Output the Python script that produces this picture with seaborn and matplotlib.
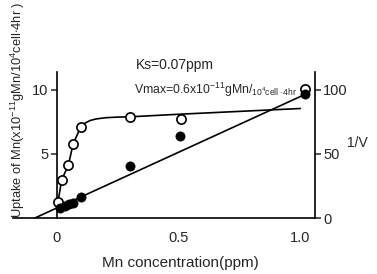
import matplotlib
matplotlib.use("Agg")
import matplotlib.pyplot as plt
import seaborn as sns
import numpy as np
import pandas as pd

# Data
open_x = [0.005, 0.02, 0.047, 0.067, 0.098, 0.30, 0.51, 1.02]
open_y = [1.27, 3.0, 4.1, 5.8, 7.1, 7.85, 7.75, 10.05]
curve_x = [0.005, 0.02, 0.047, 0.067, 0.098, 0.115, 0.135, 0.16, 0.2, 0.25, 0.3, 0.5, 1.0]
curve_y = [1.27, 3.0, 4.1, 5.8, 7.1, 7.4, 7.6, 7.73, 7.83, 7.88, 7.9, 8.1, 8.55]
filled_x = [0.012, 0.033, 0.05, 0.067, 0.098, 0.30, 0.506, 1.02]
filled_y = [7.6, 9.6, 10.7, 12.0, 16.4, 40.6, 64.3, 96.6]
fit_x = [-0.09, 1.02]
fit_y = [0.0, 96.6]
x_ticks = [0, 0.5, 1.0]
x_ticklabels = ["0", "0.5", "1.0"]
left_ticks = [5, 10]
right_ticks = [0, 50, 100]

sns.set_style("white")
plt.rcParams['font.family'] = ['Liberation Sans', 'DejaVu Sans']
plt.rcParams['mathtext.fontset'] = 'custom'
plt.rcParams['mathtext.rm'] = 'Liberation Sans'
plt.rcParams['mathtext.it'] = 'Liberation Sans'

fig = plt.figure(figsize=(3.77, 2.74), dpi=100)
ax = fig.add_axes([13/377, 56/274, (315-13)/377, (218-72)/274])
ax2 = ax.twinx()

lw = 1.2
sns.lineplot(x=curve_x, y=curve_y, ax=ax, color="black", lw=lw, sort=False, estimator=None)
sns.scatterplot(x=open_x, y=open_y, ax=ax, marker="o", s=44, facecolor="white",
                edgecolor="black", linewidth=1.2, zorder=5)
sns.lineplot(x=fit_x, y=fit_y, ax=ax2, color="black", lw=lw, estimator=None)
sns.scatterplot(x=filled_x, y=filled_y, ax=ax2, marker="o", s=44, color="black",
                edgecolor="black", linewidth=0.5, zorder=6)

ax.set_xlim(-0.18, 1.06)
ax.set_ylim(0, 11.4)
ax2.set_ylim(0, 114)

for s in ["top", "right"]:
    ax.spines[s].set_visible(False)
ax.spines["left"].set_position(("data", 0))
for s in ["top", "left", "bottom"]:
    ax2.spines[s].set_visible(False)
for sp in list(ax.spines.values()) + list(ax2.spines.values()):
    sp.set_color("black")
    sp.set_linewidth(1.2)

ax.set_xticks(x_ticks)
ax.set_xticklabels(x_ticklabels)
ax.tick_params(axis="x", length=0, pad=9, labelsize=10.5)
ax.set_yticks(left_ticks)
ax.tick_params(axis="y", direction="out", length=4, width=1.1, labelsize=10.5, pad=2, left=True)
ax2.set_yticks(right_ticks)
ax2.tick_params(axis="y", direction="out", length=4, width=1.1, labelsize=10.5, pad=2, right=True)

ax.set_xlabel("")
ax.set_ylabel("")
ax2.set_ylabel("")

fig.text(180/377, 1 - 263/274, "Mn concentration(ppm)", ha="center", va="center", fontsize=11)
fig.text(18/377, 1 - 110/274, r"Uptake of Mn(x10$^{-11}$gMn/10$^{4}$cell$\cdot$4hr )",
         rotation=90, ha="center", va="center", fontsize=9.3)
fig.text(357/377, 1 - 143/274, "1/V", ha="center", va="center", fontsize=10)
fig.text(136/377, 1 - 65/274, "Ks=0.07ppm", ha="left", va="center", fontsize=10)
fig.text(134/377, 1 - 90/274, r"Vmax=0.6x10$^{-11}$gMn/$_{10^4 cell\cdot4hr}$", ha="left",
         va="center", fontsize=8.8)

fig.savefig("out.png", dpi=100)
